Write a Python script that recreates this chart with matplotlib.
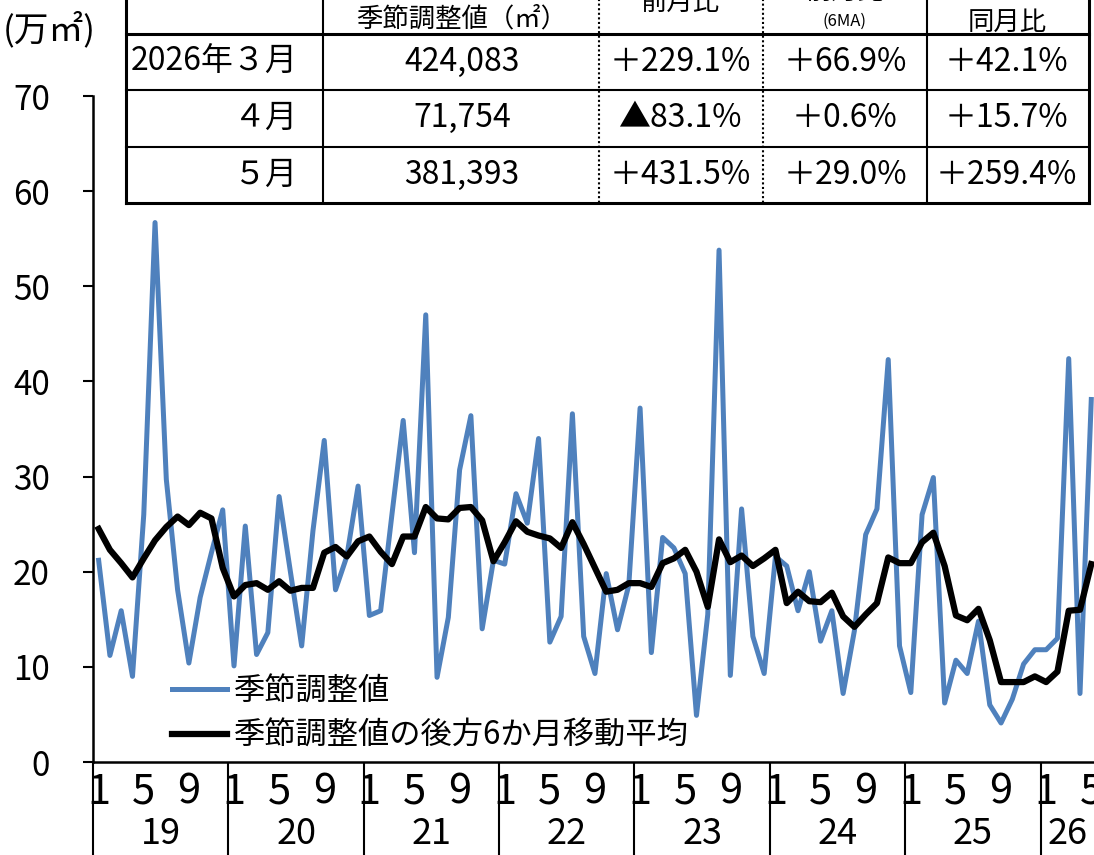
import numpy as np
import matplotlib
matplotlib.use('Agg')
import matplotlib.pyplot as plt

plt.rcParams['font.family'] = ['Noto Sans CJK JP', 'DejaVu Sans']
NARROW = ['Liberation Sans Narrow', 'Noto Sans CJK JP', 'DejaVu Sans']

# 季節調整値（万㎡）  2019年1月〜2026年5月
sa_values = [
    21.2, 11.2, 15.9, 9.0, 26.0, 56.7, 29.7, 18.1, 10.4, 17.3, 22.0, 26.5,   # 2019
    10.1, 24.8, 11.3, 13.6, 27.9, 20.0, 12.2, 24.3, 33.8, 18.1, 21.6, 29.0,  # 2020
    15.4, 15.9, 26.0, 35.9, 22.0, 47.0, 8.9, 15.2, 30.7, 36.4, 14.0, 21.2,   # 2021
    20.8, 28.2, 25.1, 34.0, 12.6, 15.3, 36.6, 13.2, 9.3, 19.8, 13.9, 18.6,   # 2022
    37.2, 11.5, 23.6, 22.5, 19.8, 4.9, 15.5, 53.8, 9.1, 26.6, 13.2, 9.3,     # 2023
    21.6, 20.6, 15.9, 20.0, 12.7, 15.9, 7.2, 13.8, 23.9, 26.6, 42.3, 12.2,   # 2024
    7.3, 26.0, 29.9, 6.2, 10.7, 9.3, 14.8, 6.0, 4.1, 6.6, 10.3, 11.8,        # 2025
    11.8, 13.0, 42.4, 7.2, 38.1,                                             # 2026
]

# 後方6か月移動平均（万㎡）
ma6_values = [
    24.5, 22.3, 20.9, 19.4, 21.4, 23.3, 24.7, 25.8, 24.9, 26.2, 25.6, 20.4,
    17.4, 18.6, 18.8, 18.1, 19.0, 18.0, 18.3, 18.3, 22.0, 22.6, 21.6, 23.2,
    23.7, 22.1, 20.8, 23.7, 23.7, 26.8, 25.6, 25.5, 26.7, 26.8, 25.4, 21.1,
    23.1, 25.3, 24.2, 23.8, 23.5, 22.5, 25.2, 22.9, 20.4, 17.9, 18.1, 18.8,
    18.8, 18.4, 20.9, 21.4, 22.3, 20.0, 16.3, 23.4, 21.0, 21.7, 20.6, 21.4,
    22.3, 16.7, 17.9, 16.9, 16.8, 17.8, 15.3, 14.2, 15.5, 16.7, 21.5, 20.9,
    20.9, 23.1, 24.1, 20.6, 15.4, 14.9, 16.1, 12.8, 8.4, 8.4, 8.4, 9.0,
    8.4, 9.5, 15.9, 16.0, 20.8,
]

years = ['19', '20', '21', '22', '23', '24', '25', '26']
month_labels = ['1', '5', '9']

table_rows = [
    ['2026年３月', '424,083', '＋229.1%', '＋66.9%', '＋42.1%'],
    ['４月', '71,754', '▲83.1%', '＋0.6%', '＋15.7%'],
    ['５月', '381,393', '＋431.5%', '＋29.0%', '＋259.4%'],
]

W, H = 1094, 855
fig = plt.figure(figsize=(W / 100, H / 100), dpi=100)

# 本体のグラフ
ax = fig.add_axes([93 / W, 1 - 762 / H, 1 - 93 / W, (762 - 96) / H])
x = np.arange(len(sa_values))
ax.plot(x, sa_values, color='#4F81BD', lw=3.6, solid_joinstyle='round',
        label='季節調整値', zorder=3)
ax.plot(x, ma6_values, color='black', lw=4.5, solid_joinstyle='round',
        label='季節調整値の後方6か月移動平均', zorder=4)

xmax = -0.5 + (W - 93) / 11.28
ax.set_xlim(-0.5, xmax)
ax.set_ylim(0, 70)
ax.set_yticks(range(0, 71, 10))
ax.tick_params(axis='y', direction='out', length=7, width=1.5, pad=24, labelsize=24)

pos, labs = [], []
for k in range(len(years)):
    for m, lab in zip((0, 4, 8), month_labels):
        if 12 * k + m < len(sa_values):
            pos.append(12 * k + m)
            labs.append(lab)
ax.set_xticks(pos, labs)
ax.set_xticks(np.arange(-0.5, len(sa_values), 12), minor=True)
ax.tick_params(axis='x', which='major', length=0, pad=7, labelsize=30)
ax.tick_params(axis='x', which='minor', direction='out', length=67, width=1.5)
for lab in ax.get_xticklabels():
    lab.set_family(NARROW)

for k, yr in enumerate(years):
    left = 12 * k - 0.5
    right = min(left + 12, xmax)
    ax.text((left + right) / 2, -0.108, yr, transform=ax.get_xaxis_transform(),
            ha='center', va='center', fontsize=26, family=NARROW)

for s in ('top', 'right'):
    ax.spines[s].set_visible(False)
for s in ('left', 'bottom'):
    ax.spines[s].set_linewidth(1.8)

ax.legend(loc='upper left', bbox_to_anchor=(172 / W, 1 - 675 / H),
          bbox_transform=fig.transFigure, frameon=False, fontsize=22.5,
          borderpad=0, borderaxespad=0, handlelength=1.75, handletextpad=0.22,
          labelspacing=0.42)

# 表（図の座標・ピクセル）
tab = fig.add_axes([0, 0, 1, 1], zorder=5)
tab.set_xlim(0, W)
tab.set_ylim(H, 0)
tab.axis('off')
tab.patch.set_alpha(0)

tab.fill_between([126, 1089], -10, 203, color='white', zorder=1)
for xv, lw in [(126, 2.2), (323, 1.5), (927, 1.5), (1089, 2.2)]:
    tab.plot([xv, xv], [-10, 203], color='black', lw=lw, zorder=2)
for xv in (599, 763):
    tab.plot([xv, xv], [-10, 203], color='black', lw=1.5, ls=(0, (1, 1.2)), zorder=2)
for yv, lw in [(34, 2.2), (90, 1.5), (147, 1.5), (203, 2.2)]:
    tab.plot([126, 1089], [yv, yv], color='black', lw=lw, zorder=2)

tab.text(462, 19, '季節調整値（㎡）', ha='center', va='center', fontsize=19)
tab.text(680, 2, '前月比', ha='center', va='center', fontsize=19)
tab.text(845, -9, '前月比', ha='center', va='center', fontsize=19)
tab.text(845, 21, '(6MA)', ha='center', va='center', fontsize=12)
tab.text(1007, -12, '前年', ha='center', va='center', fontsize=19)
tab.text(1007, 22, '同月比', ha='center', va='center', fontsize=19)

row_y = [62, 118, 175]
col_x = [298, 462, 680, 845, 1006]
for r, row in enumerate(table_rows):
    for c, val in enumerate(row):
        tab.text(col_x[c], row_y[r], val, ha='right' if c == 0 else 'center',
                 va='center', fontsize=23)

tab.text(3, 30, '(万㎡)', ha='left', va='center', fontsize=25)

fig.savefig('out.png', dpi=100)
